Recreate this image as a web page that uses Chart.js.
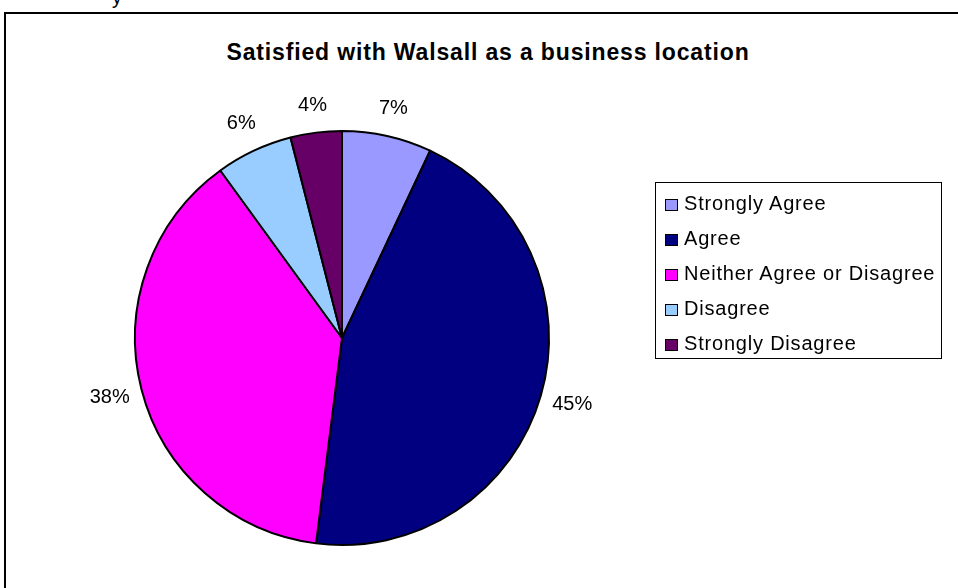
<!DOCTYPE html>
<html>
  <head>
    <meta charset="UTF-8">
    <title>Satisfied with Walsall as a business location</title>
    <script src="https://cdn.jsdelivr.net/npm/chart.js"></script>
    <style>
      html, body { margin: 0; padding: 0; background: #fff; overflow: hidden; width: 958px; height: 588px; }
      body { position: relative; font-family: "Liberation Sans", Arial, sans-serif; }
      .frame { position: absolute; left: 4px; top: 12px; width: 1000px; height: 700px; border: 2px solid #000; box-sizing: border-box; }
      .cut { position: absolute; left: 112px; top: -14px; font-size: 20px; color: #000; }
      #pie { position: absolute; left: 0; top: 0; }
      .title { position: absolute; left: 0; width: 976px; top: 39px; text-align: center; font-weight: bold; font-size: 23px; letter-spacing: 0.85px; color: #000; }
      .legend { position: absolute; left: 655px; top: 182px; width: 287px; height: 177px; border: 1px solid #000; box-sizing: border-box; }
      .legend div { position: absolute; left: 9px; height: 24px; line-height: 24px; font-size: 20px; letter-spacing: 0.8px; white-space: nowrap; color: #000; }
      .legend span { display: inline-block; width: 13px; height: 12px; border: 1px solid #000; box-sizing: border-box; margin-right: 6px; vertical-align: -1px; }
    </style>
  </head>

  <body>
    <div class="cut">y</div>
    <div class="frame"></div>
    <div class="title">Satisfied with Walsall as a business location</div>
    <canvas id="pie" width="958" height="588"></canvas>
    <div class="legend" id="legend"></div>

    <script>
      const labels = ['Strongly Agree', 'Agree', 'Neither Agree or Disagree', 'Disagree', 'Strongly Disagree'];
      const values = [7, 45, 38, 6, 4];
      const colors = ['#9999FF', '#000080', '#FF00FF', '#99CCFF', '#660066'];

      // legend built from the same arrays
      const legend = document.getElementById('legend');
      labels.forEach((name, i) => {
        const row = document.createElement('div');
        row.style.top = (8 + i * 35) + 'px';
        row.innerHTML = '<span style="background:' + colors[i] + '"></span>' + name;
        legend.appendChild(row);
      });

      const pctLabels = {
        id: 'pctLabels',
        afterDatasetsDraw(chart) {
          const ctx = chart.ctx;
          const meta = chart.getDatasetMeta(0);
          const total = values.reduce((a, b) => a + b, 0);
          ctx.save();
          ctx.font = '20px "Liberation Sans", Arial, sans-serif';
          ctx.fillStyle = '#000';
          ctx.textAlign = 'center';
          ctx.textBaseline = 'middle';
          meta.data.forEach((arc, i) => {
            const p = arc.getProps(['x', 'y', 'startAngle', 'endAngle', 'outerRadius'], true);
            const a = (p.startAngle + p.endAngle) / 2;
            const d = p.outerRadius + 27 + 6 * Math.abs(Math.cos(a));
            const txt = Math.round(values[i] / total * 100) + '%';
            ctx.fillText(txt, p.x + d * Math.cos(a), p.y + d * Math.sin(a));
          });
          ctx.restore();
        }
      };

      new Chart(document.getElementById('pie').getContext('2d'), {
        type: 'pie',
        data: {
          labels: labels,
          datasets: [{
            data: values,
            backgroundColor: colors,
            borderColor: '#000',
            borderWidth: 2
          }]
        },
        options: {
          responsive: false,
          animation: false,
          layout: { padding: { left: 134, top: 130, right: 408, bottom: 42 } },
          plugins: {
            legend: { display: false },
            tooltip: { enabled: false },
            title: { display: false }
          }
        },
        plugins: [pctLabels]
      });
    </script>
  </body>
</html>
